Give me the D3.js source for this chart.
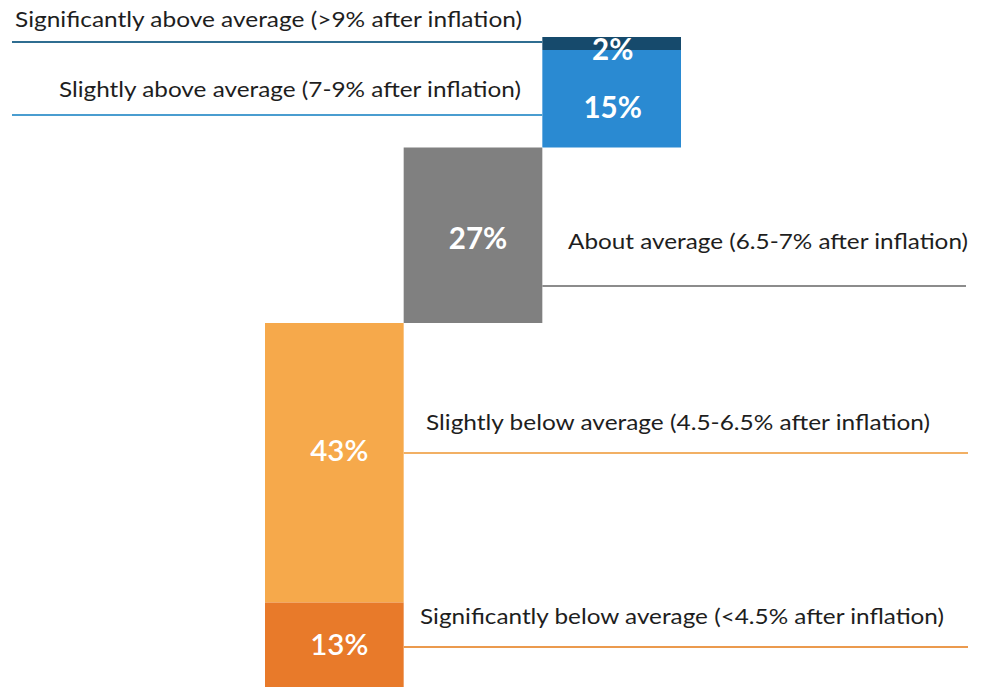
<!DOCTYPE html>
<html>
<head>
<meta charset="utf-8">
<script src="https://cdn.jsdelivr.net/npm/d3@7"></script>
<style>
  html, body { margin: 0; padding: 0; background: #fff; }
  svg { display: block; }
</style>
</head>
<body>
<svg id="chart" width="981" height="687"></svg>
<script>
// Expected long-term return outlook, share of respondents (top to bottom)
const categories = [
  "Significantly above average (>9% after inflation)",
  "Slightly above average (7-9% after inflation)",
  "About average (6.5-7% after inflation)",
  "Slightly below average (4.5-6.5% after inflation)",
  "Significantly below average (<4.5% after inflation)"
];
const shares = [2, 15, 27, 43, 13];
const valueLabels = ["2%", "15%", "27%", "43%", "13%"];
// column each segment sits in
const groups = ["above", "above", "average", "below", "below"];
const columnOrder = ["below", "average", "above"];

// drawing styles per segment
const fills = ["#164a6c", "#2a8ad2", "#808080", "#f6a94b", "#e87a2a"];
const ruleColors = ["#2f6d91", "#4a9dd0", "#8c8c8c", "#f2b064", "#eb9a4e"];

const svg = d3.select("#chart");

// cumulative stacking from the top
let acc = 0;
const segs = shares.map((v, i) => {
  const s = { i, y0: acc, y1: acc + v, v };
  acc += v;
  return s;
});

const y = d3.scaleLinear().domain([0, 100]).range([37, 687]);
const x = d3.scaleBand().domain(columnOrder).range([265, 681]).padding(0);

// leader lines and label placement for each segment
const layout = [
  { ruleY: 42,  x1: 12,  x2: () => x("above"),              tx: 15,  ty: 27,  w: 507, anchor: "start" },
  { ruleY: 115, x1: 12,  x2: () => x("above"),              tx: 521, ty: 97,  w: 462, anchor: "end" },
  { ruleY: 286, x1: () => x("average") + x.bandwidth(), x2: 966, tx: 568, ty: 249, w: 400, anchor: "start" },
  { ruleY: 453, x1: () => x("below") + x.bandwidth(),   x2: 968, tx: 426, ty: 430, w: 504, anchor: "start" },
  { ruleY: 647, x1: () => x("below") + x.bandwidth(),   x2: 968, tx: 420, ty: 624, w: 524, anchor: "start" }
];
const val = f => typeof f === "function" ? f() : f;

// bars
svg.append("g").selectAll("rect")
  .data(segs)
  .join("rect")
  .attr("x", d => x(groups[d.i]))
  .attr("width", x.bandwidth())
  .attr("y", d => y(d.y0))
  .attr("height", d => y(d.y1) - y(d.y0))
  .attr("fill", d => fills[d.i]);

// leader lines
svg.append("g").selectAll("line")
  .data(segs)
  .join("line")
  .attr("x1", d => val(layout[d.i].x1))
  .attr("x2", d => val(layout[d.i].x2))
  .attr("y1", d => layout[d.i].ruleY)
  .attr("y2", d => layout[d.i].ruleY)
  .attr("stroke", d => ruleColors[d.i])
  .attr("stroke-width", 2);

// category labels
svg.append("g").selectAll("text")
  .data(segs)
  .join("text")
  .attr("x", d => layout[d.i].tx)
  .attr("y", d => layout[d.i].ty)
  .attr("text-anchor", d => layout[d.i].anchor)
  .attr("font-family", "Lato, 'Open Sans', sans-serif")
  .attr("font-size", 21.5)
  .attr("textLength", d => layout[d.i].w)
  .attr("lengthAdjust", "spacingAndGlyphs")
  .attr("fill", "#1e1e1e")
  .text(d => categories[d.i]);

// value labels inside bars
const valueY = [60, 118, 249, 461, 655];
const valueWeight = [700, 700, 700, 600, 600];
svg.append("g").selectAll("text")
  .data(segs)
  .join("text")
  .attr("x", d => x(groups[d.i]) + x.bandwidth() / 2 + (d.i >= 2 ? 5 : 1))
  .attr("y", d => valueY[d.i])
  .attr("text-anchor", "middle")
  .attr("font-family", "Lato, 'Open Sans', sans-serif")
  .attr("font-size", 29.5)
  .attr("font-weight", d => valueWeight[d.i])
  .attr("fill", "#ffffff")
  .text(d => valueLabels[d.i]);
</script>
</body>
</html>
